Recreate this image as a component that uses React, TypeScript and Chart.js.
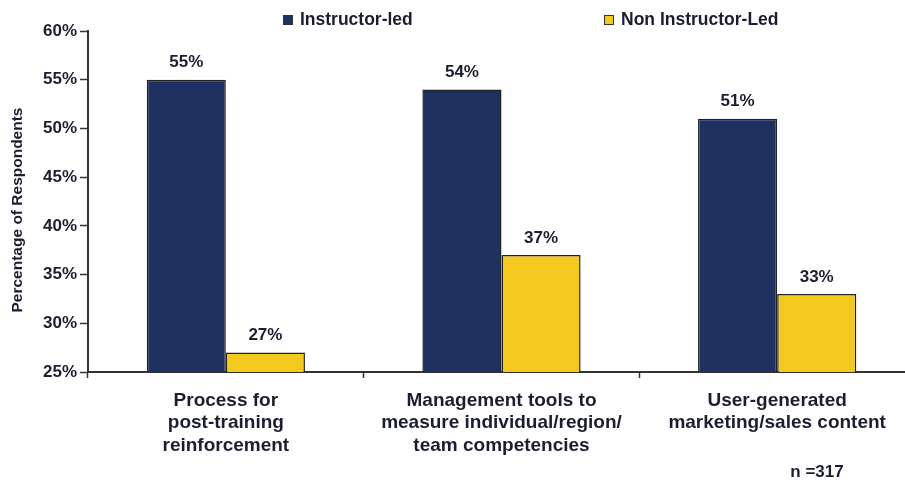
import React, { useEffect, useRef } from "react";
import { Chart, registerables } from "chart.js";

Chart.register(...registerables);

const categories: string[][] = [
  ["Process for", "post-training", "reinforcement"],
  ["Management tools to", "measure individual/region/", "team competencies"],
  ["User-generated", "marketing/sales content"],
];
const instructorLed: number[] = [55, 54, 51];
const nonInstructorLed: number[] = [27, 37, 33];
const seriesNames: string[] = ["Instructor-led", "Non Instructor-Led"];
const yTitle = "Percentage of Respondents";
const footnote = "n =317";

const NAVY = "#1f3160";
const YELLOW = "#f3c81f";
const TEXT = "#1b1e30";
const FONT = "'Liberation Sans', Arial, sans-serif";

const overlayPlugin = {
  id: "overlay",
  afterDatasetsDraw(chart: any) {
    const ctx = chart.ctx;
    ctx.save();
    ctx.fillStyle = TEXT;
    // value labels
    ctx.font = `bold 17px ${FONT}`;
    ctx.textAlign = "center";
    ctx.textBaseline = "middle";
    chart.data.datasets.forEach((ds: any, di: number) => {
      const meta = chart.getDatasetMeta(di);
      meta.data.forEach((bar: any, i: number) => {
        ctx.fillText(`${ds.data[i]}%`, bar.x, bar.y - 17);
      });
    });
    // legend
    const legendX = [283, 604];
    ctx.font = `bold 17.5px ${FONT}`;
    ctx.textAlign = "left";
    chart.data.datasets.forEach((ds: any, di: number) => {
      const x = legendX[di];
      ctx.fillStyle = ds.backgroundColor;
      ctx.fillRect(x, 15, 10, 10);
      ctx.strokeStyle = "#333";
      ctx.lineWidth = 1;
      ctx.strokeRect(x + 0.5, 15.5, 9, 9);
      ctx.fillStyle = TEXT;
      ctx.fillText(ds.label, x + 17, 20.5);
    });
    // y title
    ctx.save();
    ctx.translate(18, 210);
    ctx.rotate(-Math.PI / 2);
    ctx.textAlign = "center";
    ctx.font = `bold 15.5px ${FONT}`;
    ctx.fillText(yTitle, 0, 0);
    ctx.restore();
    // footnote
    ctx.textAlign = "center";
    ctx.font = `bold 17px ${FONT}`;
    ctx.fillText(footnote, 817, 472);
    ctx.restore();
  },
};

export default function App() {
  const ref = useRef<HTMLCanvasElement>(null);
  useEffect(() => {
    if (!ref.current) return;
    const chart = new Chart(ref.current, {
      type: "bar",
      data: {
        labels: categories,
        datasets: [
          {
            label: seriesNames[0],
            data: instructorLed,
            backgroundColor: NAVY,
            borderColor: "#222",
            borderWidth: 1.5,
          },
          {
            label: seriesNames[1],
            data: nonInstructorLed,
            backgroundColor: YELLOW,
            borderColor: "#222",
            borderWidth: 1.5,
          },
        ],
      },
      options: {
        responsive: false,
        animation: false,
        layout: { padding: { top: 31, right: 5, left: 0, bottom: 0 } },
        datasets: { bar: { categoryPercentage: 0.574, barPercentage: 1 } },
        plugins: { legend: { display: false }, tooltip: { enabled: false } },
        scales: {
          x: {
            offset: true,
            grid: {
              offset: true,
              drawOnChartArea: false,
              drawTicks: true,
              tickLength: 6,
              tickColor: "#333",
              tickWidth: 1.5,
            },
            border: { color: "#333", width: 2 },
            ticks: {
              color: TEXT,
              padding: 11,
              maxRotation: 0,
              autoSkip: false,
              font: { family: FONT, size: 19, weight: "bold", lineHeight: 1.2 },
            },
            afterFit: (s: any) => {
              s.height = 109;
            },
          },
          y: {
            min: 25,
            max: 60,
            grid: {
              drawOnChartArea: false,
              drawTicks: true,
              tickLength: 8,
              tickColor: "#333",
              tickWidth: 1.5,
            },
            border: { color: "#333", width: 2 },
            ticks: {
              stepSize: 5,
              color: TEXT,
              padding: 3,
              font: { family: FONT, size: 17, weight: "bold" },
              callback: (v: any) => `${v}%`,
            },
            afterFit: (s: any) => {
              s.width = 88;
            },
          },
        },
      },
      plugins: [overlayPlugin],
    } as any);
    return () => chart.destroy();
  }, []);
  return (
    <div
      style={{
        position: "fixed",
        left: 0,
        top: 0,
        width: 905,
        height: 481,
        overflow: "hidden",
        background: "#fff",
      }}
    >
      <canvas ref={ref} width={920} height={481} style={{ display: "block" }} />
    </div>
  );
}
